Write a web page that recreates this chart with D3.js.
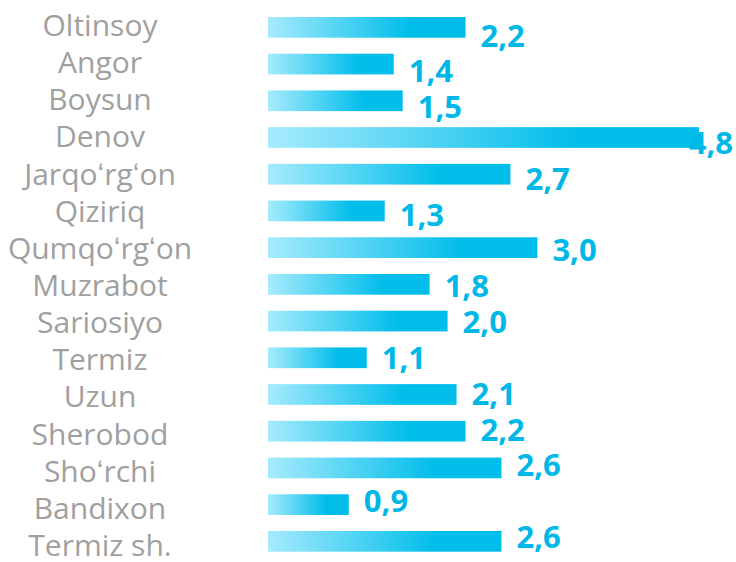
<!DOCTYPE html>
<html><head><meta charset="utf-8">
<script src="https://cdn.jsdelivr.net/npm/d3@7"></script>
<style>body{margin:0;background:#fff}</style>
</head><body>
<svg id="c" width="736" height="562"></svg>
<script>
const categories = ["Oltinsoy","Angor","Boysun","Denov","Jarqoʻrgʻon","Qiziriq","Qumqoʻrgʻon","Muzrabot","Sariosiyo","Termiz","Uzun","Sherobod","Shoʻrchi","Bandixon","Termiz sh."];
const values = [2.2,1.4,1.5,4.8,2.7,1.3,3.0,1.8,2.0,1.1,2.1,2.2,2.6,0.9,2.6];
const labels = ["2,2","1,4","1,5","4,8","2,7","1,3","3,0","1,8","2,0","1,1","2,1","2,2","2,6","0,9","2,6"];

const W = 736, H = 562;
const svg = d3.select("#c");
const x0 = 268;
const x = d3.scaleLinear().domain([0, 4.8]).range([x0, 699]);
const y = d3.scaleBand().domain(categories).range([17, 551.7]).paddingInner(0.436).paddingOuter(0);
const yCat = d3.scalePoint().domain(categories).range([36, 556]);
const yVal = d3.scalePoint().domain(categories).range([35.5, 537]);

const defs = svg.append("defs");
const grad = defs.append("linearGradient").attr("id","g").attr("x1","0").attr("x2","1").attr("y1","0").attr("y2","0");
grad.append("stop").attr("offset","0").attr("stop-color","#a6ebfd");
grad.append("stop").attr("offset","0.72").attr("stop-color","#00bdea");
grad.append("stop").attr("offset","1").attr("stop-color","#00bdea");

const data = categories.map((c,i)=>({c, v:values[i], l:labels[i]}));

svg.selectAll("rect.bar").data(data).enter().append("rect")
  .attr("class","bar")
  .attr("x", x0)
  .attr("y", d=>y(d.c))
  .attr("width", d=>x(d.v)-x0)
  .attr("height", y.bandwidth())
  .attr("fill","url(#g)");

svg.selectAll("text.cat").data(data).enter().append("text")
  .attr("class","cat")
  .attr("x", 100)
  .attr("y", d=>yCat(d.c))
  .attr("text-anchor","middle")
  .attr("font-family","'Open Sans', sans-serif")
  .attr("font-size", 30)
  .attr("fill","#a0a0a0")
  .text(d=>d.c);

svg.selectAll("text.val").data(data).enter().append("text")
  .attr("class","val")
  .attr("x", d=> x(d.v)+16+45 > W ? W-3 : x(d.v)+15)
  .attr("text-anchor", d=> x(d.v)+16+45 > W ? "end" : "start")
  .attr("y", d=>yVal(d.c)+11)
  .attr("font-family","'Open Sans', sans-serif")
  .attr("font-weight","bold")
  .attr("font-size", 31)
  .attr("fill","#00b8e8")
  .text(d=>d.l);
</script>
</body></html>
